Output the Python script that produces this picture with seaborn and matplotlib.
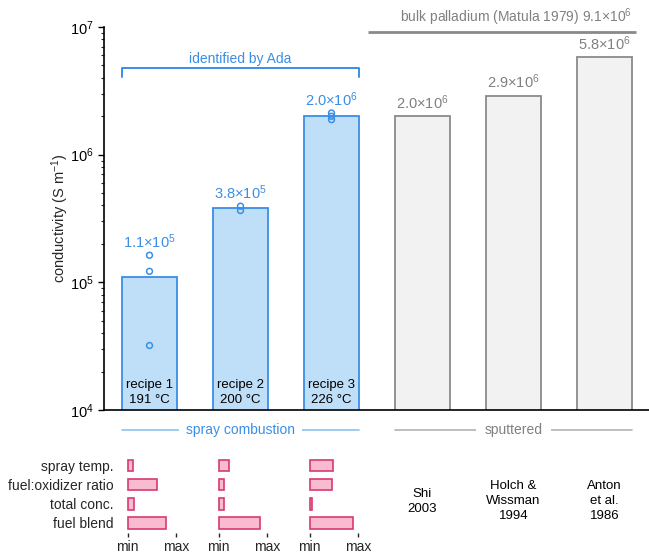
import pandas as pd
import numpy as np
import matplotlib
matplotlib.use("Agg")
import matplotlib.pyplot as plt
import matplotlib.transforms as mtransforms
import seaborn as sns

# data
categories = ["recipe 1", "recipe 2", "recipe 3", "Shi 2003", "Holch & Wissman 1994", "Anton et al. 1986"]
bar_values = [1.1e5, 3.8e5, 2.0e6, 2.0e6, 2.9e6, 5.8e6]
inner_labels = ["recipe 1\n191 °C", "recipe 2\n200 °C", "recipe 3\n226 °C", "", "", ""]
under_labels = ["", "", "", "Shi\n2003", "Holch &\nWissman\n1994", "Anton\net al.\n1986"]

point_names = ["recipe 1", "recipe 1", "recipe 1", "recipe 2", "recipe 2", "recipe 3", "recipe 3", "recipe 3"]
point_values = [1.63e5, 1.22e5, 3.2e4, 3.95e5, 3.65e5, 2.12e6, 2.0e6, 1.88e6]

bulk_value = 9.1e6

factors = ["spray temp.", "fuel:oxidizer ratio", "total conc.", "fuel blend"]
recipe_params = [
    [0.12, 0.61, 0.14, 0.79],
    [0.21, 0.12, 0.12, 0.86],
    [0.49, 0.47, 0.05, 0.90],
]

# colours
blue = "#3a8ee6"
blue_fill = "#bfdff8"
blue_light = "#8cc3f0"
gray_text = "#808080"
gray_edge = "#8a8a8a"
gray_fill = "#f2f2f2"
pink_fill = "#f8bbd0"
pink_edge = "#d83a73"

sns.set_theme(style="ticks")
plt.rcParams["font.family"] = ["Liberation Sans", "DejaVu Sans"]
plt.rcParams["mathtext.fontset"] = "custom"
plt.rcParams["mathtext.rm"] = "Liberation Sans"
plt.rcParams["mathtext.it"] = "Liberation Sans:italic"
plt.rcParams["mathtext.bf"] = "Liberation Sans:bold"


def sci(v):
    e = int(np.floor(np.log10(v)))
    m = v / 10 ** e
    return f"{m:.1f}×10$^{{{e}}}$"


bars = pd.DataFrame({"name": categories, "value": bar_values})
pts = pd.DataFrame({"name": point_names, "value": point_values})

fig = plt.figure(figsize=(6.49, 5.52), dpi=100)
W, H = 649, 552
ax = fig.add_axes([104 / W, 1 - 410 / H, 546 / W, 383 / H])

fills = [blue_fill] * 3 + [gray_fill] * 3
edges = [blue] * 3 + [gray_edge] * 3
sns.barplot(data=bars, x="name", y="value", hue="name", order=categories,
            hue_order=categories, palette=fills, width=0.6, saturation=1,
            errorbar=None, legend=False, linewidth=1.3, ax=ax)
for patch, ec in zip(ax.patches, edges):
    patch.set_edgecolor(ec)

sns.stripplot(data=pts, x="name", y="value", order=categories, jitter=False,
              color=blue, size=4.2, linewidth=1.1, edgecolor=blue, ax=ax, zorder=5)
for coll in ax.collections:
    coll.set_facecolor("none")

ax.set_yscale("log")
ax.set_ylim(1e4, 1e7)
ax.set_xlim(-0.5, 5.5)
ax.set_xlabel("")
ax.set_ylabel("conductivity (S m$^{-1}$)", fontsize=10.5, labelpad=-1)
ax.set_xticks([])
ax.tick_params(axis="y", which="major", length=4, width=1, labelsize=10.5, colors="black")
ax.tick_params(axis="y", which="minor", length=2.5, width=0.8)
for s in ["top", "right"]:
    ax.spines[s].set_visible(False)
for s in ["left", "bottom"]:
    ax.spines[s].set_linewidth(1.2)
    ax.spines[s].set_color("black")

blend = mtransforms.blended_transform_factory(ax.transData, ax.transAxes)

# value labels
for i, (name, val) in enumerate(zip(categories, bar_values)):
    top = max([val] + [p for n, p in zip(point_names, point_values) if n == name])
    col = blue if i < 3 else gray_text
    ax.annotate(sci(val), (i, top), xytext=(0, 3), textcoords="offset points",
                ha="center", va="bottom", fontsize=10.5, color=col)
    if inner_labels[i]:
        ax.text(i, 0.045, inner_labels[i], transform=blend, ha="center", va="center",
                fontsize=9.5, linespacing=1.3, color="black")
    if under_labels[i]:
        ax.text(i, -0.238, under_labels[i], transform=blend, ha="center", va="center",
                fontsize=9.5, linespacing=1.3, color="black", clip_on=False)

# bracket "identified by Ada"
ax.plot([-0.3, -0.3, 2.3, 2.3], [0.870, 0.892, 0.892, 0.870], transform=blend,
        color=blue, lw=1.4, clip_on=False)
ax.text(1, 0.916, "identified by Ada", transform=blend, ha="center", va="center",
        fontsize=10, color=blue)

# bulk palladium reference
ax.hlines(bulk_value, 2.4, 5.35, color=gray_edge, lw=2)
ax.annotate("bulk palladium (Matula 1979) " + sci(bulk_value), (5.3, bulk_value),
            xytext=(0, 3), textcoords="offset points", ha="right", va="bottom",
            fontsize=10, color=gray_text, annotation_clip=False)

# group labels under the axis
ax.plot([-0.3, 2.3], [-0.052, -0.052], transform=blend, color=blue_light, lw=1.2, clip_on=False)
ax.text(1, -0.052, "spray combustion", transform=blend, ha="center", va="center",
        fontsize=10, color=blue, bbox=dict(fc="white", ec="none", pad=5), clip_on=False)
ax.plot([2.7, 5.3], [-0.052, -0.052], transform=blend, color="#b3b3b3", lw=1.2, clip_on=False)
ax.text(4, -0.052, "sputtered", transform=blend, ha="center", va="center",
        fontsize=10, color=gray_text, bbox=dict(fc="white", ec="none", pad=6), clip_on=False)

# recipe parameter panels under the spray-combustion bars
for i, vals in enumerate(recipe_params):
    cx_px = ax.transData.transform((i, 1e5))[0]
    sax = fig.add_axes([(cx_px - 27.6) / W, 1 - 532.6 / H, 55.5 / W, 76.9 / H])
    df = pd.DataFrame({"factor": factors, "value": vals})
    sns.barplot(data=df, x="value", y="factor", orient="h", width=0.6, saturation=1,
                color=pink_fill, edgecolor=pink_edge, linewidth=1.2, errorbar=None, ax=sax)
    sax.set_xlim(-0.12, 1.03)
    sax.set_xticks([0, 1])
    sax.set_xticklabels(["min", "max"])
    sax.set_xlabel("")
    sax.set_ylabel("")
    sax.tick_params(axis="x", length=3, width=1, labelsize=10, pad=2)
    sax.tick_params(axis="y", length=0, labelsize=10, pad=6)
    if i > 0:
        sax.set_yticklabels([])
    for s in sax.spines.values():
        s.set_visible(False)
    sax.patch.set_alpha(0)

fig.savefig("out.png", dpi=100)
